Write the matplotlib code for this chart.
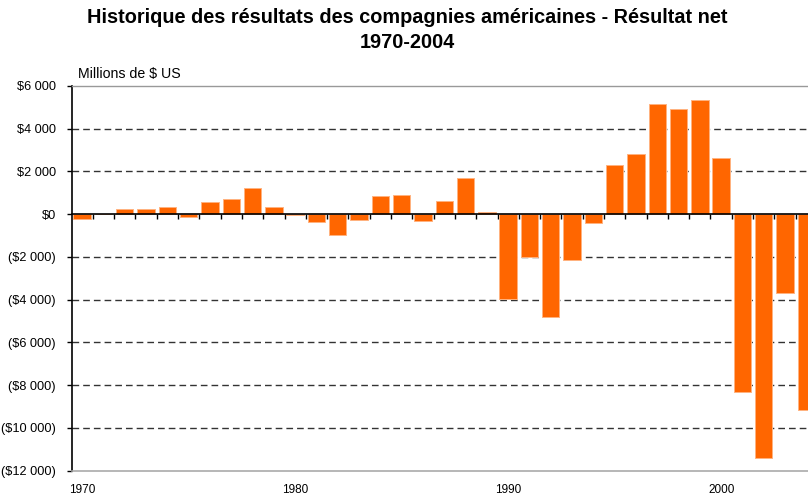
import matplotlib
matplotlib.use("Agg")
import matplotlib.pyplot as plt
from matplotlib.ticker import FixedLocator
import matplotlib.transforms as mtransforms

plt.rcParams['font.family'] = ['Liberation Sans', 'DejaVu Sans']

years = list(range(1970, 2005))
net_result = [-230, 30, 230, 235, 340, -140, 560, 735, 1230, 345,
              -20, -370, -950, -250, 845, 890, -310, 610, 1700, 125,
              -3970, -2000, -4830, -2150, -390, 2300, 2795, 5155, 4920, 5360,
              2625, -8330, -11390, -3690, -9160]
ytick_vals = [6000, 4000, 2000, 0, -2000, -4000, -6000, -8000, -10000, -12000]
ytick_labels = ["$6 000", "$4 000", "$2 000", "$0", "($2 000)", "($4 000)",
                "($6 000)", "($8 000)", "($10 000)", "($12 000)"]
grid_vals = [4000, 2000, -2000, -4000, -6000, -8000, -10000]
xlabel_years = [1970, 1980, 1990, 2000]

title = "Historique des résultats des compagnies américaines - Résultat net\n1970-2004"
unit_label = "Millions de $ US"

W, H = 808, 495
fig = plt.figure(figsize=(W / 100, H / 100), dpi=100)
left_px, right_px, top_px, bottom_px = 71.5, 817.0, 86.0, 470.7
ax = fig.add_axes([left_px / W, 1 - bottom_px / H,
                   (right_px - left_px) / W, (bottom_px - top_px) / H])

x = list(range(len(years)))
for g in grid_vals:
    ax.axhline(g, color='#333333', lw=1.0, ls=(0, (4.8, 2.9)), zorder=1)

ax.bar(x, net_result, width=0.82, color='#FF6600', edgecolor='#FFB27F',
       linewidth=0.7, zorder=2)

ax.set_xlim(-0.5, len(years) - 0.5)
ax.set_ylim(-12000, 6000)

# zero line with category ticks
ax.spines['bottom'].set_position(('data', 0))
ax.spines['bottom'].set_color('black')
ax.spines['bottom'].set_linewidth(1.2)
ax.spines['bottom'].set_zorder(3)
ax.xaxis.set_major_locator(FixedLocator([i + 0.5 for i in range(len(years))]))
ax.tick_params(axis='x', direction='out', length=3.5, width=1.0, color='black',
               labelbottom=False)

ax.spines['left'].set_color('black')
ax.spines['left'].set_linewidth(1.2)
ax.spines['top'].set_color('#999999')
ax.spines['top'].set_linewidth(1.0)
ax.spines['right'].set_visible(False)
ax.axhline(-12000, color='#aaaaaa', lw=1.2, zorder=3, clip_on=False)

ax.set_yticks(ytick_vals)
ax.set_yticklabels(ytick_labels, fontsize=9.2, color='black')
ax.tick_params(axis='y', direction='out', length=3.8, width=1.0, color='black', pad=7.5)

trans = mtransforms.blended_transform_factory(ax.transData, fig.transFigure)
for yr in xlabel_years:
    ax.text(years.index(yr), 1 - 490 / H, str(yr), transform=trans,
            ha='center', va='center', fontsize=8.5, color='black')

fig.text(78 / W, 1 - 74 / H, unit_label, ha='left', va='center', fontsize=10.2)
fig.text(407 / W, 1 - 8 / H, title, ha='center', va='top', fontsize=14.3,
         fontweight='bold', linespacing=1.4)

fig.savefig("out.png", dpi=100)
